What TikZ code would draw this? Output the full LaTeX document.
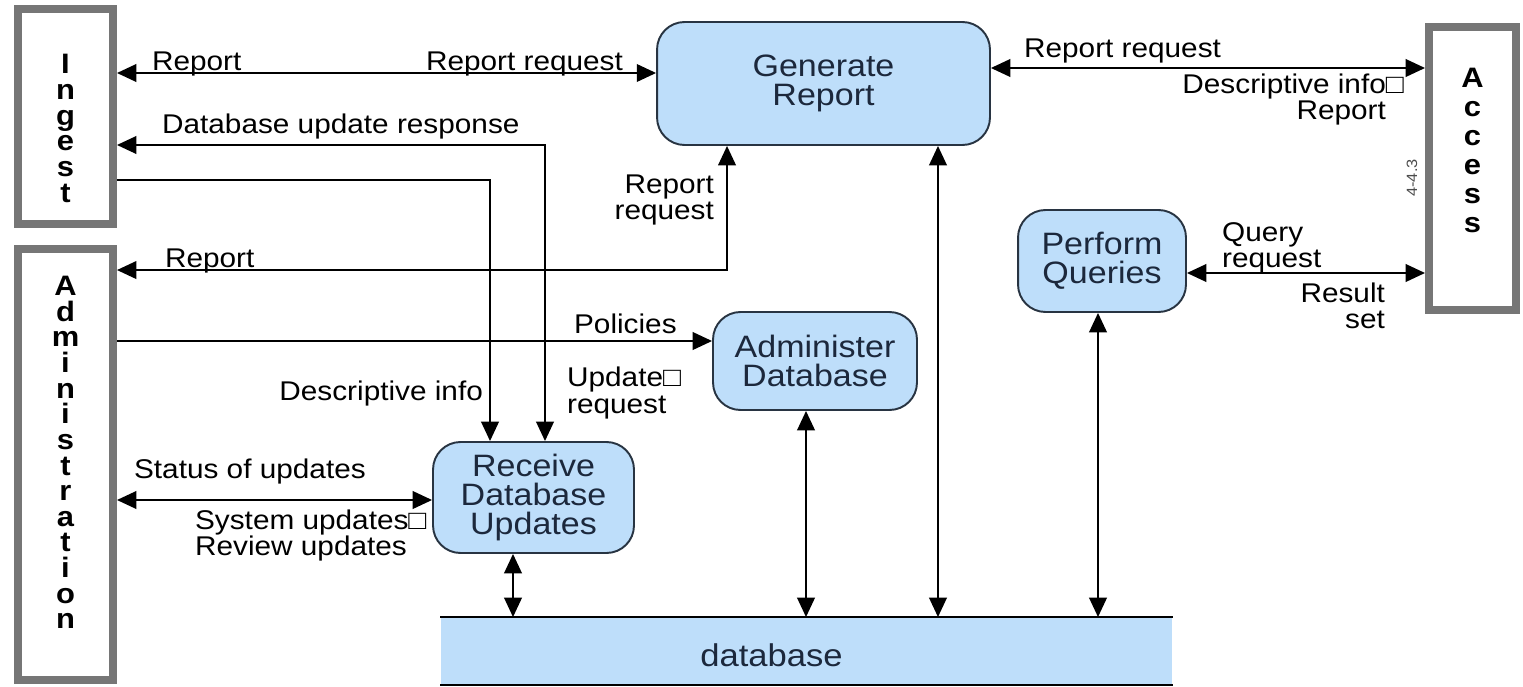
\documentclass[tikz,border=0pt]{standalone}
\usepackage{fontspec}
\setmainfont{Liberation Sans}[FakeStretch=1.1]
\usetikzlibrary{arrows.meta}
\definecolor{procfill}{RGB}{190,222,250}
\definecolor{procline}{RGB}{40,52,66}
\definecolor{proctext}{RGB}{28,40,60}
\definecolor{extline}{RGB}{118,118,118}

\begin{document}
\begin{tikzpicture}[x=0.02cm, y=-0.02cm]

\tikzset{ext/.style = {draw=extline, line width=0.16cm, fill=white, inner sep=0pt}}
\tikzset{extname/.style = {align=center, inner sep=0pt, font=\fontsize{16}{14.6}\selectfont\bfseries}}
\tikzset{proc/.style = {draw=procline, line width=1.1pt, fill=procfill, rounded corners=0.55cm, align=center, text=proctext, font=\fontsize{17.6}{16.6}\selectfont}}
\tikzset{store/.style = {fill=procfill, line width=1.1pt, inner sep=0pt}}
\tikzset{msg/.style = {inner sep=1pt, font=\fontsize{15.4}{14.8}\selectfont}}
\tikzset{tip/.style = {Triangle[length=11pt,width=10pt]}}
\tikzset{flow/.style = {line width=1.1pt, -{Triangle[length=11pt,width=10pt]}}}
\tikzset{both/.style = {line width=1.1pt, {Triangle[length=11pt,width=10pt]}-{Triangle[length=11pt,width=10pt]}}}

\useasboundingbox (0,0) rectangle (1523,686);

%entities
\node[ext, minimum width=1.9cm, minimum height=4.3cm,
  label={[extname, name=ingestname, yshift=-0.24cm]center:I\\n\\g\\e\\s\\t}] (ingest) at (65.5,116.5) {};
\node[ext, minimum width=1.9cm, minimum height=8.62cm,
  label={[extname, name=adminname, yshift=0.24cm]center:A\\d\\m\\i\\n\\i\\s\\t\\r\\a\\t\\i\\o\\n}] (admin) at (65.5,464.5) {};
\node[ext, minimum width=1.74cm, minimum height=5.66cm,
  label={[extname, name=accessname, yshift=0.36cm, font=\fontsize{16}{16.5}\selectfont\bfseries]center:A\\c\\c\\e\\s\\s}] (access) at (1472.5,168.5) {};

%processes
\node[proc, minimum width=6.66cm, minimum height=2.46cm] (gen) at (823.5,83.5) {Generate\\Report};
\node[proc, minimum width=3.36cm, minimum height=2.04cm] (pq) at (1102,261) {Perform\\Queries};
\node[proc, minimum width=4.08cm, minimum height=1.96cm] (admdb) at (815,361) {Administer\\Database};
\node[proc, minimum width=4.02cm, minimum height=2.22cm] (recv) at (533.5,497.5) {Receive\\Database\\Updates};

%store
\node[store, minimum width=14.62cm, minimum height=1.32cm,
  label={[name=dbname, text=proctext, font=\fontsize{17.9}{17.9}\selectfont, xshift=-0.7cm, yshift=-0.08cm]center:database}] (db) at (806.5,651) {};
\draw[line width=1.1pt] (db.north west) -- (db.north east);
\draw[line width=1.1pt] (db.south west) -- (db.south east);

%flows
\draw[both] ([yshift=0.21cm]gen.west -| ingest.east) -- ([yshift=0.21cm]gen.west);
\draw[both] ([yshift=-0.57cm]ingest.east) -| ([xshift=0.23cm]recv.north);
\draw[flow] ([yshift=-1.27cm]ingest.east) -| ([xshift=-0.87cm]recv.north);
\draw[both] ([yshift=3.89cm]admin.east) -| ([xshift=-1.93cm]gen.south);
\draw[flow] ([yshift=0.4cm]admdb.west -| admin.east) -- ([yshift=0.4cm]admdb.west);
\draw[both] ([yshift=-0.05cm]recv.west -| admin.east) -- ([yshift=-0.05cm]recv.west);
\draw[both] ([xshift=-0.41cm]recv.south) -- ([xshift=-0.41cm]recv.south |- db.north);
\draw[both] ([xshift=-0.18cm]admdb.south) -- ([xshift=-0.18cm]admdb.south |- db.north);
\draw[both] ([xshift=2.29cm]gen.south) -- ([xshift=2.29cm]gen.south |- db.north);
\draw[both] ([xshift=-0.08cm]pq.south) -- ([xshift=-0.08cm]pq.south |- db.north);
\draw[both] ([yshift=0.31cm]gen.east) -- ([yshift=0.31cm]gen.east -| access.west);
\draw[both] ([yshift=-0.24cm]pq.east) -- ([yshift=-0.24cm]pq.east -| access.west);

%labels
\node[msg, anchor=base west] (repI) at (150,71) {Report};
\node[msg, anchor=base east] (reqI) at (625,71) {Report request};
\node[msg, anchor=base west] (resp) at (160,133) {Database update response};
\node[msg, anchor=base east] (desc) at (485,400) {Descriptive info};
\node[msg, anchor=west, align=left] (upd) at (565,393) {Update□\\request};
\node[msg, anchor=east, align=right] (rreq) at (716,200) {Report\\request};
\node[msg, anchor=base west] (repA) at (163,267) {Report};
\node[msg, anchor=base west] (pol) at (572,333) {Policies};
\node[msg, anchor=base west] (stat) at (132,478) {Status of updates};
\node[msg, anchor=west, align=left] (sys) at (193,535) {System updates□\\Review updates};
\node[msg, anchor=base west] (reqA) at (1022,58) {Report request};
\node[msg, anchor=east, align=right] (descA) at (1388,100) {Descriptive info\rlap{□}\\Report};
\node[msg, anchor=west, align=left] (qry) at (1220,248) {Query\\request};
\node[msg, anchor=east, align=right] (res) at (1387,306) {Result\\set};
\node[msg, rotate=90, font=\fontsize{8.5}{8.5}\selectfont, text=black!70] (pg) at (1412,178) {4-4.3};

\end{tikzpicture}
\end{document}
